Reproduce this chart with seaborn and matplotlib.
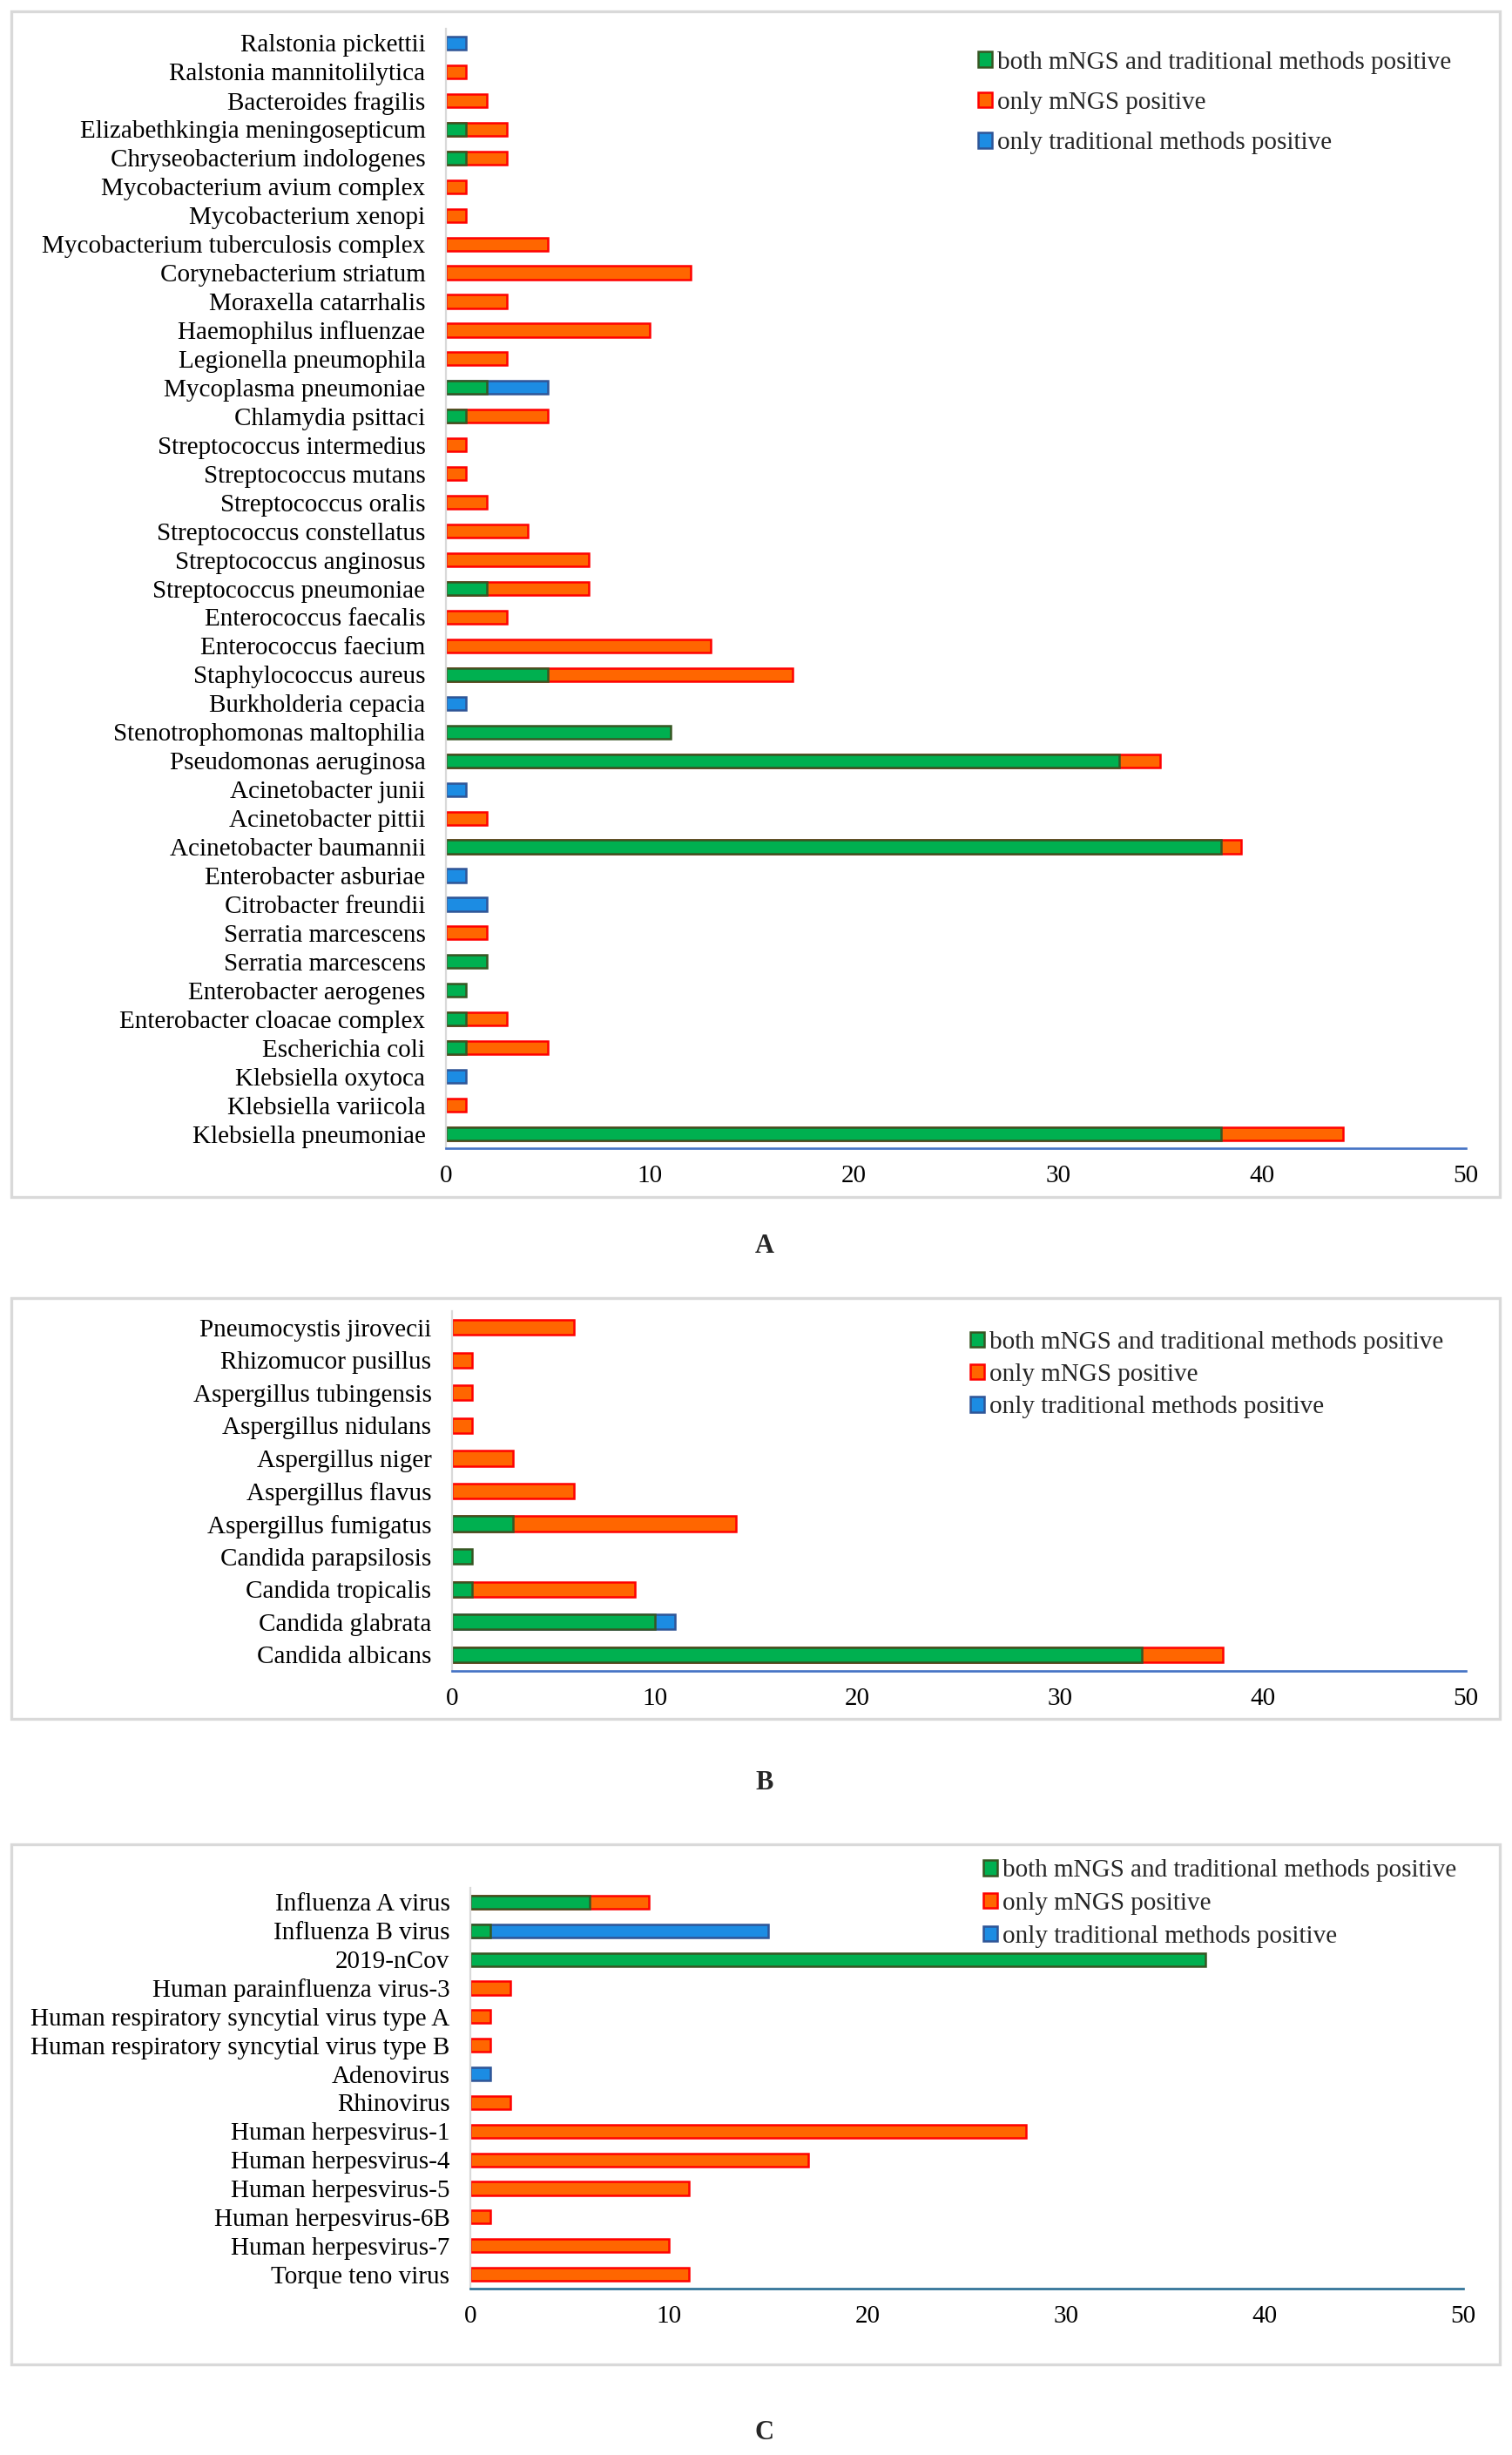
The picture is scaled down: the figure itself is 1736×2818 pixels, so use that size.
import numpy as np
import pandas as pd
import matplotlib
matplotlib.use('Agg')
import matplotlib.pyplot as plt
from matplotlib.patches import Patch, Rectangle
import seaborn as sns

# ---- data (listed top to bottom) ----
bact_names = [
    'Ralstonia pickettii', 'Ralstonia mannitolilytica', 'Bacteroides fragilis',
    'Elizabethkingia meningosepticum', 'Chryseobacterium indologenes',
    'Mycobacterium avium complex', 'Mycobacterium xenopi',
    'Mycobacterium tuberculosis complex', 'Corynebacterium striatum',
    'Moraxella catarrhalis', 'Haemophilus influenzae', 'Legionella pneumophila',
    'Mycoplasma pneumoniae', 'Chlamydia psittaci', 'Streptococcus intermedius',
    'Streptococcus mutans', 'Streptococcus oralis', 'Streptococcus constellatus',
    'Streptococcus anginosus', 'Streptococcus pneumoniae', 'Enterococcus faecalis',
    'Enterococcus faecium', 'Staphylococcus aureus', 'Burkholderia cepacia',
    'Stenotrophomonas maltophilia', 'Pseudomonas aeruginosa', 'Acinetobacter junii',
    'Acinetobacter pittii', 'Acinetobacter baumannii', 'Enterobacter asburiae',
    'Citrobacter freundii', 'Serratia marcescens', 'Serratia marcescens',
    'Enterobacter aerogenes', 'Enterobacter cloacae complex', 'Escherichia coli',
    'Klebsiella oxytoca', 'Klebsiella variicola', 'Klebsiella pneumoniae',
]
bact_both = [0, 0, 0, 1, 1, 0, 0, 0, 0, 0, 0, 0, 2, 1, 0, 0, 0, 0, 0, 2, 0, 0, 5,
             0, 11, 33, 0, 0, 38, 0, 0, 0, 2, 1, 1, 1, 0, 0, 38]
bact_mngs = [0, 1, 2, 2, 2, 1, 1, 5, 12, 3, 10, 3, 0, 4, 1, 1, 2, 4, 7, 5, 3, 13, 12,
             0, 0, 2, 0, 2, 1, 0, 0, 2, 0, 0, 2, 4, 0, 1, 6]
bact_trad = [1, 0, 0, 0, 0, 0, 0, 0, 0, 0, 0, 0, 3, 0, 0, 0, 0, 0, 0, 0, 0, 0, 0,
             1, 0, 0, 1, 0, 0, 1, 2, 0, 0, 0, 0, 0, 1, 0, 0]

fungi_names = [
    'Pneumocystis jirovecii', 'Rhizomucor pusillus', 'Aspergillus tubingensis',
    'Aspergillus nidulans', 'Aspergillus niger', 'Aspergillus flavus',
    'Aspergillus fumigatus', 'Candida parapsilosis', 'Candida tropicalis',
    'Candida glabrata', 'Candida albicans',
]
fungi_both = [0, 0, 0, 0, 0, 0, 3, 1, 1, 10, 34]
fungi_mngs = [6, 1, 1, 1, 3, 6, 11, 0, 8, 0, 4]
fungi_trad = [0, 0, 0, 0, 0, 0, 0, 0, 0, 1, 0]

virus_names = [
    'Influenza A virus', 'Influenza B virus', '2019-nCov',
    'Human parainfluenza virus-3', 'Human respiratory syncytial virus type A',
    'Human respiratory syncytial virus type B', 'Adenovirus', 'Rhinovirus',
    'Human herpesvirus-1', 'Human herpesvirus-4', 'Human herpesvirus-5',
    'Human herpesvirus-6B', 'Human herpesvirus-7', 'Torque teno virus',
]
virus_both = [6, 1, 37, 0, 0, 0, 0, 0, 0, 0, 0, 0, 0, 0]
virus_mngs = [3, 0, 0, 2, 1, 1, 0, 2, 28, 17, 11, 1, 10, 11]
virus_trad = [0, 14, 0, 0, 0, 0, 1, 0, 0, 0, 0, 0, 0, 0]

legend_labels = ['both mNGS and traditional methods positive',
                 'only mNGS positive',
                 'only traditional methods positive']

# ---- style ----
GREEN, GREEN_EDGE = '#00B050', '#375623'
ORANGE, ORANGE_EDGE = '#FF6600', '#FF0000'
BLUE, BLUE_EDGE = '#1C8CE3', '#2F5597'
FRAME = '#D9D9D9'

sns.set_theme(style='white')
plt.rcParams['font.family'] = ['Liberation Serif', 'DejaVu Serif']
FS = 21

W, H = 1736, 2818
fig = plt.figure(figsize=(W / 100, H / 100), dpi=100)
fig.patch.set_facecolor('white')


def px_axes(left, top, right, bottom):
    return fig.add_axes([left / W, 1 - bottom / H, (right - left) / W, (bottom - top) / H])


def frame(x0, y0, x1, y1):
    fig.add_artist(Rectangle((x0 / W, 1 - y1 / H), (x1 - x0) / W, (y1 - y0) / H,
                             transform=fig.transFigure, fill=False,
                             edgecolor=FRAME, linewidth=2.4))


def panel(ax, names, both, mngs, trad, legend_xy, spacing, axis_color):
    both = np.array(both, float)
    mngs = np.array(mngs, float)
    trad = np.array(trad, float)
    keys = [f'{i:02d}' for i in range(len(names))]
    df = pd.DataFrame({
        'key': keys,
        # drawn back to front: full stack, then both+mNGS, then both
        'trad': np.where(trad > 0, both + mngs + trad, np.nan),
        'mngs': np.where(mngs > 0, both + mngs, np.nan),
        'both': np.where(both > 0, both, np.nan),
    })
    for col, fc, ec in [('trad', BLUE, BLUE_EDGE), ('mngs', ORANGE, ORANGE_EDGE),
                        ('both', GREEN, GREEN_EDGE)]:
        sns.barplot(data=df, x=col, y='key', order=keys, orient='h', ax=ax,
                    color=fc, saturation=1, edgecolor=ec, linewidth=1.8,
                    width=0.46, errorbar=None)

    ax.set_xlim(0, 50)
    ax.set_ylim(len(names) - 0.5, -0.5)
    ax.set_xticks(range(0, 51, 10))
    ax.set_yticks(range(len(names)))
    ax.set_yticklabels(names, fontsize=FS)
    ax.set_xlabel('')
    ax.set_ylabel('')
    for lab in ax.get_xticklabels():
        lab.set_fontsize(FS)
    for s in ['top', 'right']:
        ax.spines[s].set_visible(False)
    ax.spines['left'].set_color(FRAME)
    ax.spines['left'].set_linewidth(1.6)
    ax.spines['bottom'].set_color(axis_color)
    ax.spines['bottom'].set_linewidth(1.9)
    ax.tick_params(axis='x', direction='out', length=6, width=1.9,
                   color=axis_color, pad=8, labelcolor='black')
    ax.tick_params(axis='y', length=0, pad=17, labelcolor='black')
    ax.set_facecolor('none')

    handles = [Patch(facecolor=GREEN, edgecolor=GREEN_EDGE, linewidth=1.8),
               Patch(facecolor=ORANGE, edgecolor=ORANGE_EDGE, linewidth=1.8),
               Patch(facecolor=BLUE, edgecolor=BLUE_EDGE, linewidth=1.8)]
    ax.legend(handles, legend_labels, loc='center left',
              bbox_to_anchor=(legend_xy[0] / W, 1 - legend_xy[1] / H),
              bbox_transform=fig.transFigure, frameon=False, fontsize=FS,
              borderpad=0, borderaxespad=0, handlelength=0.55, handleheight=0.55,
              handletextpad=0.2, labelspacing=spacing)


# panel A: bacteria
frame(13, 13, 1722, 1374)
axA = px_axes(512, 33, 1683, 1318)
panel(axA, bact_names, bact_both, bact_mngs, bact_trad, (1123, 118), 0.70, '#4472C4')
fig.text(878 / W, 1 - 1431 / H, 'A', ha='center', va='center', fontsize=22,
         fontweight='bold')

# panel B: fungi
frame(13, 1490, 1722, 1973)
axB = px_axes(519, 1505, 1683, 1918)
panel(axB, fungi_names, fungi_both, fungi_mngs, fungi_trad, (1114, 1578), 0.39, '#4472C4')
fig.text(878 / W, 1 - 2046 / H, 'B', ha='center', va='center', fontsize=22,
         fontweight='bold')

# panel C: viruses
frame(13, 2117, 1722, 2714)
axC = px_axes(540, 2167, 1680, 2627)
panel(axC, virus_names, virus_both, virus_mngs, virus_trad, (1129, 2185), 0.40, '#2A6F94')
fig.text(878 / W, 1 - 2793 / H, 'C', ha='center', va='center', fontsize=22,
         fontweight='bold')

fig.savefig('out.png', dpi=100, facecolor='white')
